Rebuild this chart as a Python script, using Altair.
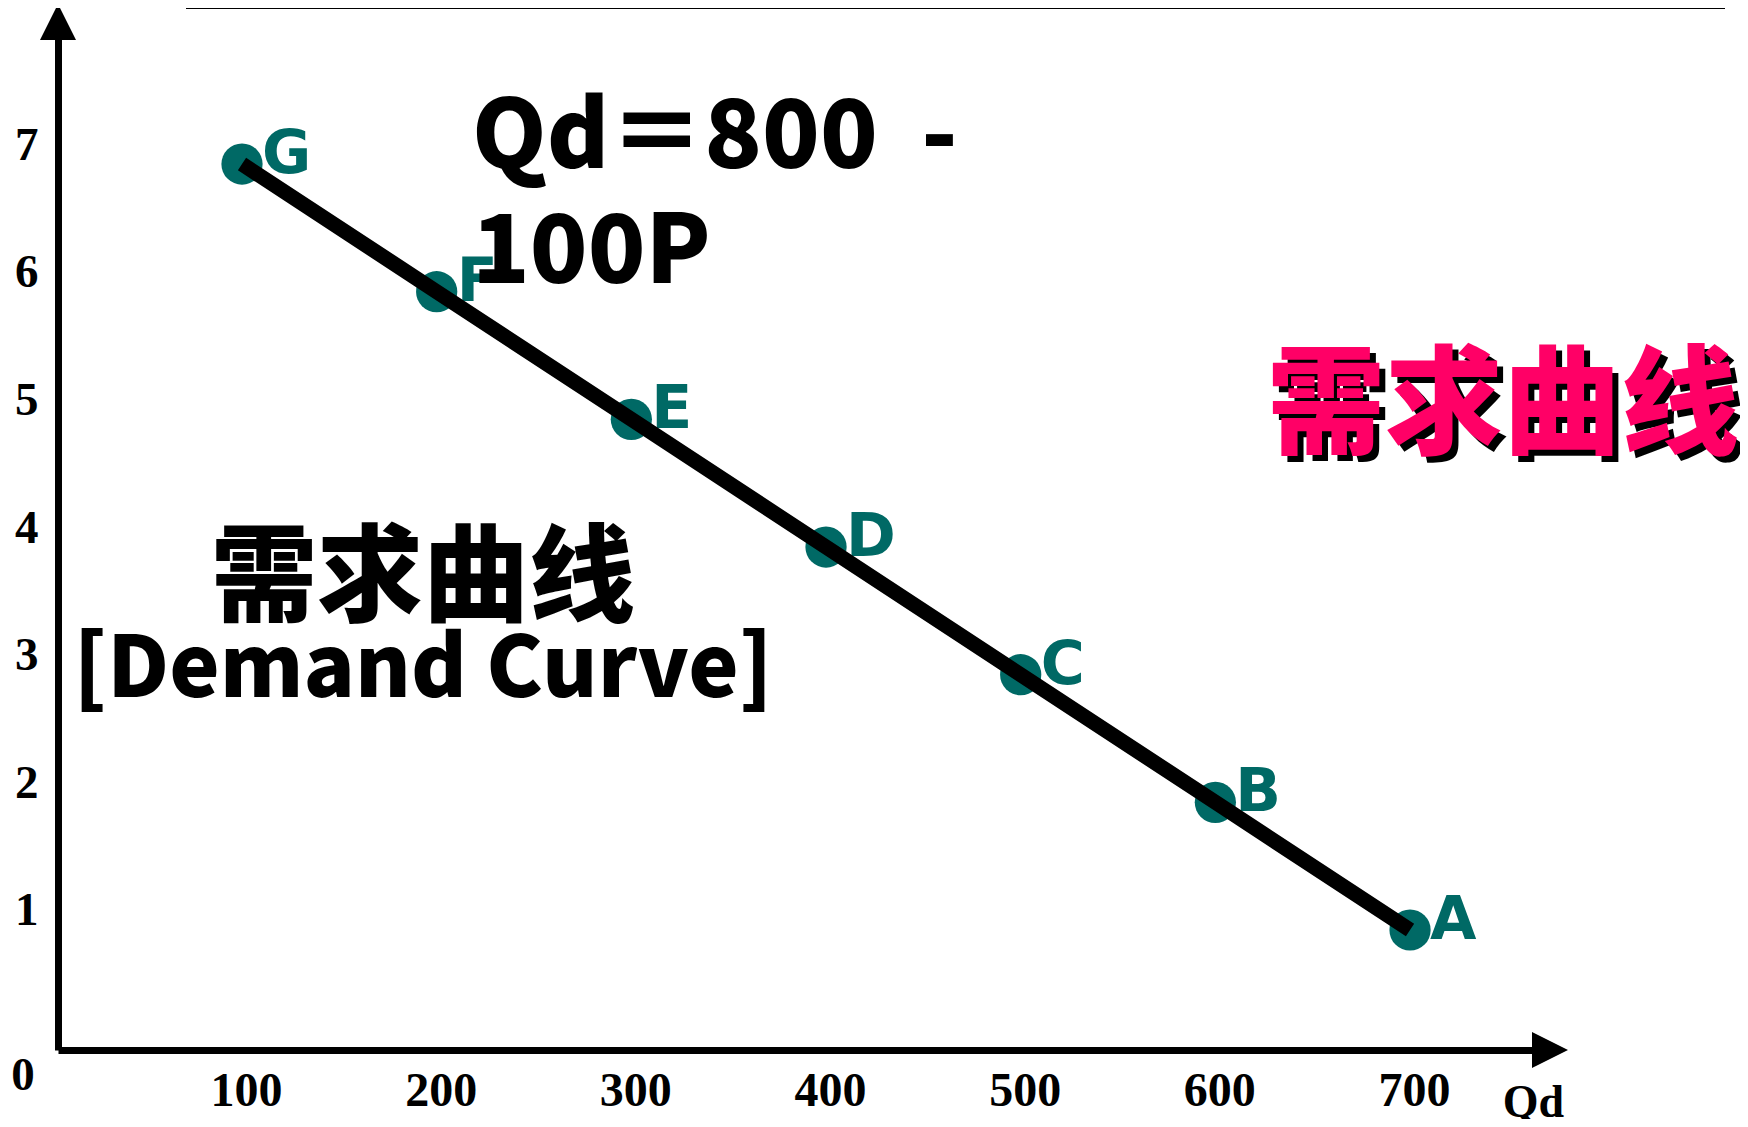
import altair as alt
import pandas as pd

# data
points = ["A", "B", "C", "D", "E", "F", "G"]
quantity = [700, 600, 500, 400, 300, 200, 100]
price = [1, 2, 3, 4, 5, 6, 7]
x_ticks = [100, 200, 300, 400, 500, 600, 700]
y_ticks = [1, 2, 3, 4, 5, 6, 7]

df = pd.DataFrame({"label": points, "q": quantity, "p": price})

TEAL = "#006965"
PINK = "#FF0066"
CJK = "Noto Sans CJK SC"
SERIF = "Liberation Serif"

xs = alt.Scale(domain=[5.48, 771.9], nice=False, zero=False)
ys = alt.Scale(domain=[0.06, 8.089], nice=False, zero=False)

x_axis = alt.Axis(values=x_ticks, format="d", grid=False, ticks=False,
                  domainColor="black", domainWidth=7, labelColor="black",
                  labelFont=SERIF, labelFontWeight="bold", labelFontSize=48,
                  labelPadding=17, labelOffset=4, labelOverlap=False,
                  labelFlush=False,
                  title="Qd", titleFont=SERIF, titleFontWeight="bold",
                  titleFontSize=46, titleColor="black", titleX=1475, titleY=52,
                  titleAlign="center", titleBaseline="middle", titleAngle=0)
y_axis = alt.Axis(values=y_ticks, format="d", grid=False, ticks=False,
                  domainColor="black", domainWidth=7, labelColor="black",
                  labelFont=SERIF, labelFontWeight="bold", labelFontSize=47,
                  labelPadding=20, labelOffset=-19, labelOverlap=False,
                  labelFlush=False, title=None)

base = alt.Chart(df)

dots = base.mark_circle(size=1700, opacity=1, color=TEAL).encode(
    x=alt.X("q:Q", scale=xs, axis=x_axis),
    y=alt.Y("p:Q", scale=ys, axis=y_axis),
)

line = base.mark_line(color="black", strokeWidth=15, strokeCap="butt").encode(
    x=alt.X("q:Q", scale=xs),
    y=alt.Y("p:Q", scale=ys),
    order="q:Q",
)

dot_labels = base.mark_text(align="left", baseline="middle", dx=20, dy=-9,
                            font="DejaVu Sans", fontWeight="bold", fontSize=60,
                            color=TEAL).encode(
    x=alt.X("q:Q", scale=xs),
    y=alt.Y("p:Q", scale=ys),
    text="label:N",
)

one = pd.DataFrame({"k": [0]})
ann = alt.Chart(one)

top_rule = ann.mark_rule(color="black", strokeWidth=4).encode(
    x=alt.value(128), x2=alt.value(1667), y=alt.value(-18))

arrow_up = ann.mark_point(shape="M-1,1L1,1L0,-1Z", filled=True, opacity=1,
                          color="black", size=1300).encode(
    x=alt.value(0), y=alt.value(-3))
arrow_right = ann.mark_point(shape="M-1,-1L1,0L-1,1Z", filled=True, opacity=1,
                             color="black", size=1300).encode(
    x=alt.value(1492), y=alt.value(1025))

zero_lbl = ann.mark_text(text="0", font=SERIF, fontWeight="bold", fontSize=47,
                         align="center", baseline="middle", color="black").encode(
    x=alt.value(-35), y=alt.value(1051))

equation = ann.mark_text(text="Qd＝800\u00a0\u00a0-\n100P", lineBreak="\n",
                         lineHeight=115, font=CJK, fontWeight=900,
                         fontSize=95, align="left", baseline="alphabetic",
                         color="black").encode(
    x=alt.value(414), y=alt.value(143))

cn_black = ann.mark_text(text="需求曲线", font=CJK, fontWeight=900, fontSize=106,
                         align="center", baseline="alphabetic", color="black").encode(
    x=alt.value(365), y=alt.value(588))
en_black = ann.mark_text(text="[Demand Curve]", font=CJK, fontWeight=900,
                         fontSize=85, align="center", baseline="alphabetic",
                         color="black").encode(
    x=alt.value(365), y=alt.value(672))

pink_shadow = ann.mark_text(text="需求曲线", font=CJK, fontWeight=900,
                            fontSize=118, align="center", baseline="alphabetic",
                            color="black", dx=6, dy=6).encode(
    x=alt.value(1445), y=alt.value(420))
pink = ann.mark_text(text="需求曲线", font=CJK, fontWeight=900, fontSize=118,
                     align="center", baseline="alphabetic", color=PINK).encode(
    x=alt.value(1445), y=alt.value(420))

chart = alt.layer(
    dots, dot_labels, line, top_rule, arrow_up, arrow_right, zero_lbl, equation,
    cn_black, en_black, pink_shadow, pink,
).properties(
    width=1492, height=1025,
    autosize=alt.AutoSizeParams(type="none"),
    padding={"left": 50, "top": 17, "right": 190, "bottom": 69},
    background="white",
).configure_view(strokeWidth=0)

chart.save("out.html", embed_options={"renderer": "svg", "actions": False})
